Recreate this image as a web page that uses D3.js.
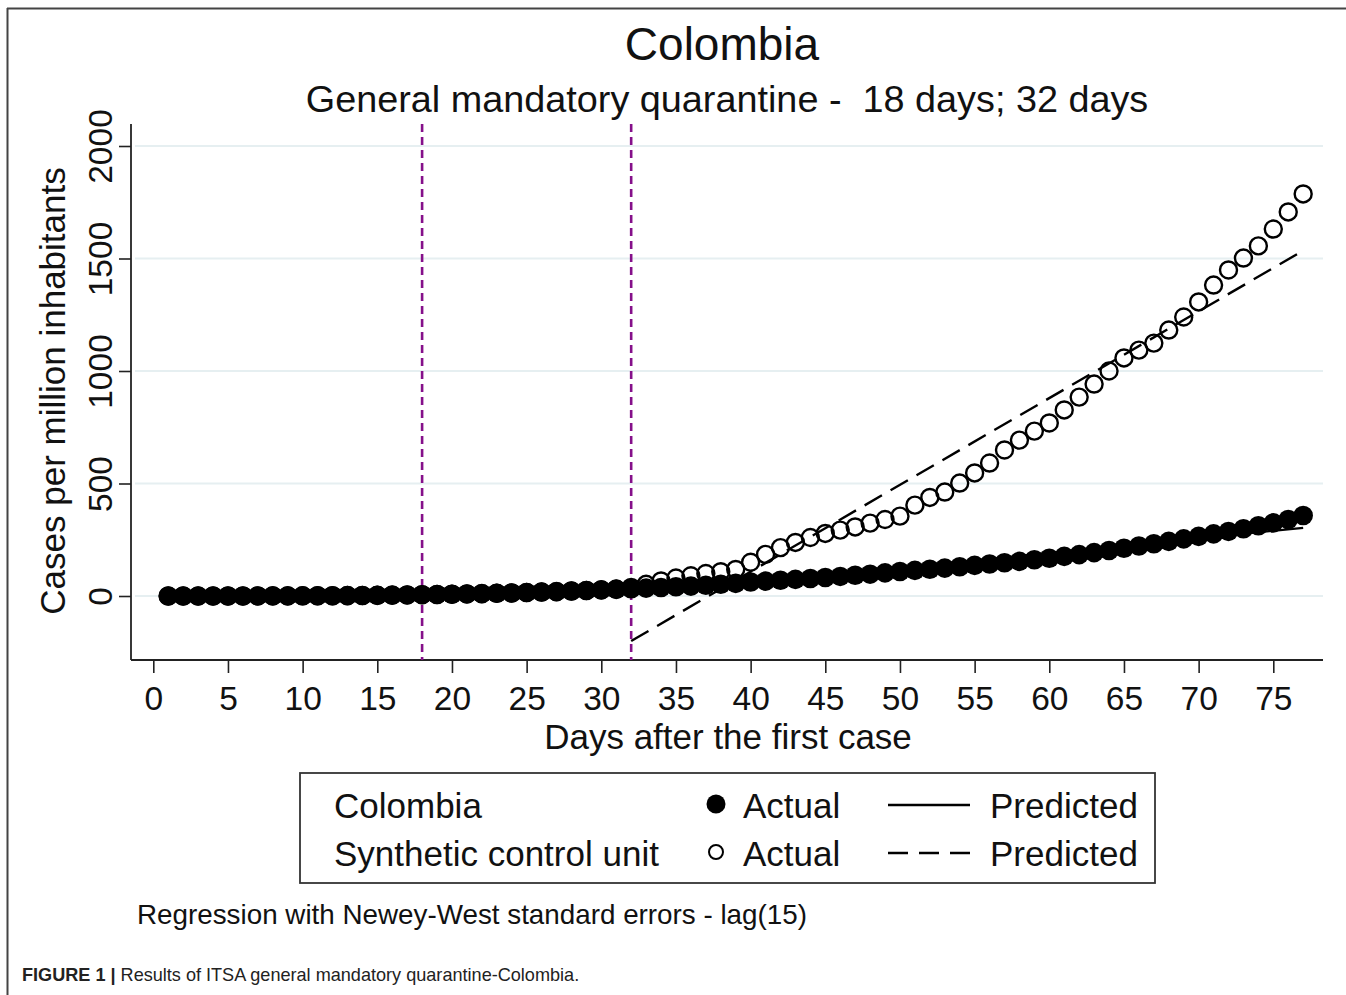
<!DOCTYPE html>
<html>
<head>
<meta charset="utf-8">
<script src="https://cdn.jsdelivr.net/npm/d3@7"></script>
<style>
  body { margin: 0; background: #fff; }
  svg { font-family: "Liberation Sans", Arial, sans-serif; }
</style>
</head>
<body>
<svg id="chart" width="1346" height="995"></svg>
<script>
// days after first case
const days = d3.range(1, 78);

// Colombia actual, cases per million
const colombiaActual = [
  0, 0, 0, 0, 0.1, 0.2, 0.3, 0.5, 0.6, 0.8,
  1.0, 1.3, 1.8, 2.3, 3.0, 3.8, 4.7, 5.8, 6.9, 8.0,
  9.2, 10.5, 12, 13.5, 15.5, 17.5, 19.5, 22, 24.5, 27,
  29.5, 32, 35, 38, 41, 44, 48, 52, 56, 62,
  66, 70, 74, 78, 82, 87, 92, 97, 103, 109,
  114, 119, 124, 130, 136, 142, 148, 154, 161, 168,
  176, 184, 193, 202, 212, 222, 232, 243, 254, 265,
  276, 287, 299, 312, 325, 340, 358
];

// synthetic control unit actual
const syntheticActual = [
  0, 0, 0, 0, 0.1, 0.2, 0.4, 0.5, 0.7, 0.9,
  1.1, 1.4, 1.9, 2.4, 3.1, 3.9, 4.8, 5.9, 7.0, 8.1,
  9.3, 10.6, 12, 13.6, 15.5, 17.5, 19.6, 22, 24.6, 27.5,
  31, 38, 52, 67, 80, 90, 100, 108, 118, 150,
  185, 215, 238, 260, 278, 293, 307, 324, 340, 355,
  404, 438, 462, 502, 547, 591, 649, 693, 733, 769,
  827, 884, 942, 1000, 1058, 1093, 1124, 1182, 1240, 1307,
  1382, 1449, 1502, 1556, 1631, 1707, 1787
];

// predicted segments (linear ITSA fits), [day, value] endpoints
const colombiaPredicted = [
  [[1, -2], [17, 5]],
  [[18, 4], [31, 30]],
  [[32, 8], [77, 303]]
];
const syntheticPredicted = [
  [[1, -2], [17, 5]],
  [[18, 3], [31, 31]],
  [[32, -200], [77, 1535]]
];

const interventions = [18, 32];
const xTicks = d3.range(0, 80, 5);
const yTicks = [0, 500, 1000, 1500, 2000];

const svg = d3.select("#chart");

// frame lines (top and left only)
svg.append("line").attr("x1", 7).attr("x2", 1346).attr("y1", 8.5).attr("y2", 8.5)
  .attr("stroke", "#444").attr("stroke-width", 2);
svg.append("line").attr("x1", 7.5).attr("x2", 7.5).attr("y1", 8).attr("y2", 995)
  .attr("stroke", "#444").attr("stroke-width", 2);

const x = d3.scaleLinear().domain([0, 75]).range([153.3, 1273.3]);
const y = d3.scaleLinear().domain([0, 2000]).range([596, 146]);

const plotLeft = 131, plotRight = 1323, plotTop = 124, plotBottom = 660;

// gridlines
svg.append("g").selectAll("line")
  .data(yTicks)
  .join("line")
  .attr("x1", plotLeft + 4).attr("x2", plotRight)
  .attr("y1", d => y(d)).attr("y2", d => y(d))
  .attr("stroke", "#e6eff1").attr("stroke-width", 2);

// axes
const xAxis = svg.append("g")
  .attr("transform", "translate(0," + plotBottom + ")")
  .call(d3.axisBottom(x).tickValues(xTicks).tickSize(13).tickPadding(13));
xAxis.select(".domain").remove();
xAxis.selectAll("line").attr("stroke", "#222").attr("stroke-width", 1.6);
xAxis.selectAll("text")
  .attr("font-size", "33.5px").attr("font-family", "Liberation Sans, Arial, sans-serif")
  .attr("fill", "#111").attr("dy", "0.71em");

const yAxis = svg.append("g")
  .attr("transform", "translate(" + plotLeft + ",0)")
  .call(d3.axisLeft(y).tickValues(yTicks).tickSize(12).tickFormat(d3.format("d")));
yAxis.select(".domain").remove();
yAxis.selectAll("line").attr("stroke", "#222").attr("stroke-width", 1.6);
yAxis.selectAll("text")
  .attr("font-size", "33.5px").attr("font-family", "Liberation Sans, Arial, sans-serif")
  .attr("fill", "#111")
  .attr("text-anchor", "middle")
  .attr("x", null).attr("dy", null)
  .attr("transform", d => "translate(-19,0) rotate(-90)");

svg.append("line").attr("x1", plotLeft).attr("x2", plotRight)
  .attr("y1", plotBottom).attr("y2", plotBottom)
  .attr("stroke", "#222").attr("stroke-width", 1.8);
svg.append("line").attr("x1", plotLeft).attr("x2", plotLeft)
  .attr("y1", plotTop).attr("y2", plotBottom)
  .attr("stroke", "#222").attr("stroke-width", 1.8);

// intervention lines
svg.append("g").selectAll("line")
  .data(interventions)
  .join("line")
  .attr("x1", d => x(d)).attr("x2", d => x(d))
  .attr("y1", plotTop).attr("y2", plotBottom)
  .attr("stroke", "#85108a").attr("stroke-width", 2.6)
  .attr("stroke-dasharray", "8,5");

// synthetic actual (hollow)
svg.append("g").selectAll("circle")
  .data(days)
  .join("circle")
  .attr("cx", d => x(d)).attr("cy", (d, i) => y(syntheticActual[i]))
  .attr("r", 8.5).attr("fill", "none")
  .attr("stroke", "#000").attr("stroke-width", 2.4);

// Colombia actual (filled)
svg.append("g").selectAll("circle")
  .data(days)
  .join("circle")
  .attr("cx", d => x(d)).attr("cy", (d, i) => y(colombiaActual[i]))
  .attr("r", 9.8).attr("fill", "#000");

// predicted lines
const line = d3.line().x(d => x(d[0])).y(d => y(d[1]));
svg.append("g").selectAll("path")
  .data(colombiaPredicted)
  .join("path")
  .attr("d", line).attr("fill", "none")
  .attr("stroke", "#000").attr("stroke-width", 2.2);
svg.append("g").selectAll("path")
  .data(syntheticPredicted)
  .join("path")
  .attr("d", line).attr("fill", "none")
  .attr("stroke", "#000").attr("stroke-width", 2.4)
  .attr("stroke-dasharray", "20,10");

// titles
svg.append("text").attr("x", 722).attr("y", 60)
  .attr("text-anchor", "middle").attr("font-size", "46px").attr("fill", "#111")
  .text("Colombia");
svg.append("text").attr("x", 727).attr("y", 112)
  .attr("text-anchor", "middle").attr("font-size", "37.8px").attr("fill", "#111")
  .style("white-space", "pre")
  .text("General mandatory quarantine -  18 days; 32 days");
svg.append("text").attr("x", 728).attr("y", 749)
  .attr("text-anchor", "middle").attr("font-size", "35px").attr("fill", "#111")
  .text("Days after the first case");
svg.append("text")
  .attr("transform", "translate(65,391) rotate(-90)")
  .attr("text-anchor", "middle").attr("font-size", "35px").attr("fill", "#111")
  .text("Cases per million inhabitants");

// legend
const lg = svg.append("g");
lg.append("rect").attr("x", 300).attr("y", 773).attr("width", 855).attr("height", 110)
  .attr("fill", "#fff").attr("stroke", "#333").attr("stroke-width", 1.8);
const legendRows = [
  { label: "Colombia", filled: true, dash: null, yy: 818 },
  { label: "Synthetic control unit", filled: false, dash: "20,11", yy: 866 }
];
legendRows.forEach(r => {
  lg.append("text").attr("x", 334).attr("y", r.yy).attr("font-size", "35px")
    .attr("fill", "#111").text(r.label);
  lg.append("circle").attr("cx", 716).attr("cy", r.yy - 14)
    .attr("r", r.filled ? 9.5 : 7)
    .attr("fill", r.filled ? "#000" : "none")
    .attr("stroke", "#000").attr("stroke-width", r.filled ? 0 : 2);
  lg.append("text").attr("x", 743).attr("y", r.yy).attr("font-size", "35px")
    .attr("fill", "#111").text("Actual");
  lg.append("line").attr("x1", 888).attr("x2", 970)
    .attr("y1", r.yy - 13).attr("y2", r.yy - 13)
    .attr("stroke", "#000").attr("stroke-width", 2.4)
    .attr("stroke-dasharray", r.dash);
  lg.append("text").attr("x", 990).attr("y", r.yy).attr("font-size", "35px")
    .attr("fill", "#111").text("Predicted");
});

// note and caption
svg.append("text").attr("x", 137).attr("y", 924).attr("font-size", "27.8px")
  .attr("fill", "#111").text("Regression with Newey-West standard errors - lag(15)");
const cap = svg.append("text").attr("x", 22).attr("y", 981).attr("font-size", "18.1px")
  .attr("fill", "#222");
cap.append("tspan").attr("font-weight", "bold").text("FIGURE 1 | ");
cap.append("tspan").text("Results of ITSA general mandatory quarantine-Colombia.");
</script>
</body>
</html>
